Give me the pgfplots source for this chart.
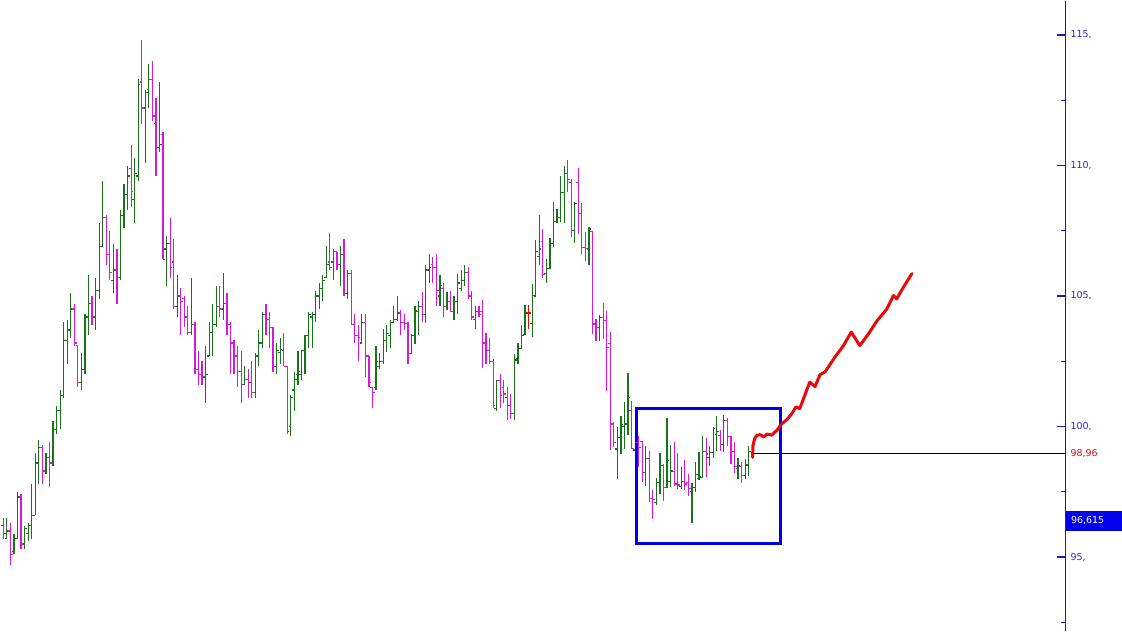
\documentclass[border=0pt]{standalone}
\usepackage{pgfplots}
\usepackage{pgfplotstable}
\usepackage{fontspec}
\setmainfont{DejaVu Sans}
\pgfplotsset{compat=1.18}
\definecolor{upg}{RGB}{25,115,25}
\definecolor{dnm}{RGB}{215,25,215}
\definecolor{axblue}{RGB}{25,25,200}
\definecolor{lblblue}{RGB}{40,40,185}
\definecolor{boxblue}{RGB}{0,0,235}
\definecolor{redl}{RGB}{230,10,10}
\pgfdeclareplotmark{ohlcopen}{\pgfpathmoveto{\pgfqpoint{-2.2pt}{0pt}}\pgfpathlineto{\pgfqpoint{0pt}{0pt}}\pgfusepathqstroke}
\pgfdeclareplotmark{ohlcclose}{\pgfpathmoveto{\pgfqpoint{0pt}{0pt}}\pgfpathlineto{\pgfqpoint{2.2pt}{0pt}}\pgfusepathqstroke}
\pgfplotstableread{
i o h l c
0 96.2 96.5 95.7 95.9
1 95.7 96.5 95.7 96.0
2 96.0 96.3 94.7 95.1
3 95.2 95.9 95.1 95.7
4 95.7 97.5 95.7 97.3
5 97.3 97.4 95.3 95.5
6 95.5 96.2 95.3 96.1
7 95.9 96.3 95.6 96.2
8 96.2 97.8 95.7 96.6
9 96.6 99.0 96.6 98.6
10 98.6 99.5 97.8 99.2
11 99.2 99.3 97.8 98.3
12 98.3 99.0 98.2 98.8
13 98.8 99.4 97.7 98.6
14 98.6 100.2 98.5 99.9
15 99.9 100.8 99.7 100.6
16 100.6 101.4 99.9 101.2
17 101.2 104.0 101.1 103.3
18 103.3 104.1 102.4 103.7
19 103.7 105.1 103.4 104.5
20 104.5 104.7 103.1 103.2
21 103.1 103.1 101.5 101.7
22 101.7 102.8 101.4 102.2
23 102.2 104.3 102.0 104.2
24 104.2 105.8 103.5 104.7
25 104.7 105.0 103.9 104.2
26 104.2 105.7 103.7 105.2
27 105.2 107.8 104.9 106.9
28 106.9 109.4 106.9 108.0
29 108.0 108.1 106.2 106.6
30 106.6 107.5 105.6 105.9
31 105.6 107.0 105.1 106.0
32 106.0 106.8 104.7 105.7
33 105.7 108.3 105.6 108.1
34 108.1 109.3 107.6 108.9
35 108.9 110.0 108.3 109.6
36 109.9 110.8 108.4 109.0
37 108.7 110.3 107.8 109.7
38 109.6 113.3 109.4 113.1
39 113.2 114.8 111.6 112.2
40 112.2 112.9 110.1 112.8
41 112.9 113.9 112.2 113.3
42 113.3 114.0 111.7 111.9
43 111.6 112.6 109.6 110.7
44 110.7 113.2 110.5 110.8
45 111.2 111.3 106.4 106.4
46 106.8 107.3 105.4 107.0
47 107.0 108.0 105.7 106.1
48 106.3 107.2 104.5 104.6
49 104.6 105.8 104.2 105.0
50 105.0 105.3 103.5 104.8
51 104.9 105.0 103.8 104.2
52 104.2 104.6 103.5 103.6
53 103.6 105.7 103.5 103.9
54 103.9 104.0 102.0 102.2
55 102.2 102.9 101.6 102.0
56 102.0 102.5 101.6 101.9
57 101.9 103.1 100.9 102.0
58 102.7 104.0 102.7 103.6
59 103.6 104.7 102.7 103.9
60 103.9 105.4 103.8 104.6
61 104.6 105.4 104.2 104.5
62 104.5 105.9 104.1 104.7
63 104.7 105.1 103.5 103.9
64 103.9 104.0 102.0 103.2
65 103.2 103.3 102.0 102.7
66 102.7 103.1 101.5 102.1
67 102.1 102.9 100.9 101.6
68 101.6 102.3 101.6 101.8
69 101.8 102.2 101.1 101.7
70 101.7 102.5 101.1 101.3
71 101.3 102.8 101.1 102.7
72 102.7 103.7 102.3 103.2
73 103.2 104.4 103.0 104.3
74 104.3 104.7 103.5 104.1
75 104.1 104.4 103.0 103.8
76 103.8 103.8 102.1 102.3
77 102.3 103.2 102.0 102.9
78 102.85 103.4 102.4 102.95
79 102.9 103.6 102.3 102.3
80 102.3 102.3 99.7 99.8
81 100.0 101.2 99.65 101.1
82 101.4 102.1 100.6 101.8
83 102.0 102.9 101.6 102.1
84 102.0 102.9 101.8 102.9
85 102.9 103.5 102.0 103.5
86 103.5 104.4 103.0 104.3
87 104.2 104.4 103.0 104.3
88 104.3 105.2 104.0 105.0
89 105.0 105.5 104.5 105.3
90 105.3 105.8 104.8 105.6
91 105.7 106.9 105.7 106.2
92 106.3 107.4 106.0 106.1
93 106.3 106.8 105.6 106.7
94 106.7 106.7 106.0 106.2
95 106.2 106.9 105.4 106.6
96 106.6 107.2 105.0 105.1
97 105.1 106.0 104.9 105.85
98 105.85 106.0 103.9 103.9
99 103.9 104.3 103.2 103.5
100 103.5 103.9 102.5 103.4
101 103.2 104.3 103.2 104.0
102 104.0 104.3 101.9 102.7
103 102.7 102.7 101.5 101.7
104 101.5 101.5 100.7 101.3
105 101.5 103.1 101.4 102.5
106 102.3 102.8 102.2 102.5
107 102.5 103.75 102.4 103.3
108 103.3 103.9 102.85 103.55
109 103.5 104.1 103.0 104.0
110 104.0 104.6 104.0 104.1
111 104.1 105.0 104.07 104.35
112 104.35 104.45 103.5 104.0
113 104.0 104.3 103.7 103.96
114 103.96 104.0 102.4 102.8
115 102.8 103.55 102.79 103.5
116 103.5 104.6 103.17 104.45
117 104.4 104.8 103.5 104.6
118 104.6 105.15 104.0 104.3
119 104.3 106.2 103.96 106.0
120 106.0 106.6 105.5 106.1
121 106.2 106.5 105.5 106.1
122 106.1 106.6 104.6 105.2
123 105.0 105.8 104.6 105.4
124 105.3 105.5 104.2 104.6
125 104.6 105.15 104.45 104.8
126 104.8 105.2 104.4 104.42
127 104.4 105.0 104.07 104.8
128 104.8 105.85 104.3 105.5
129 105.3 106.0 105.2 105.6
130 105.6 106.2 105.4 105.9
131 105.9 106.1 104.9 105.0
132 105.0 105.2 104.1 104.2
133 104.1 104.6 103.75 104.4
134 104.4 104.6 104.2 104.3
135 104.4 104.86 102.25 103.2
136 103.2 103.6 102.4 102.9
137 102.9 103.4 102.4 102.5
138 102.5 102.6 100.7 100.8
139 100.7 101.8 100.6 101.75
140 101.76 102.0 100.7 101.2
141 101.5 101.8 100.9 101.25
142 101.1 101.5 100.26 100.8
143 100.8 101.25 100.3 100.5
144 100.5 102.76 100.26 102.55
145 102.6 103.2 102.4 103.0
146 103.0 103.9 102.98 103.5
147 103.53 104.64 103.5 104.35
148 104.35 104.67 103.74 104.35
149 103.96 105.47 103.42 105.02
150 105.0 107.13 104.95 106.7
151 106.5 108.1 106.17 106.8
152 107.1 107.55 105.68 105.82
153 105.85 106.42 105.49 106.04
154 106.04 107.23 106.04 107.0
155 107.0 108.6 106.87 107.87
156 107.87 108.34 107.79 108.02
157 108.0 109.58 107.83 108.98
158 108.98 110.0 107.79 109.68
159 109.68 110.23 108.98 109.45
160 109.36 109.49 107.28 107.51
161 107.5 108.6 107.02 108.53
162 109.34 109.91 107.38 108.15
163 108.15 108.56 106.62 106.85
164 106.85 107.45 106.36 106.81
165 106.8 107.66 106.17 107.57
166 107.47 107.47 103.55 103.93
167 103.93 104.13 103.27 103.8
168 103.8 104.29 103.27 104.19
169 104.19 104.73 103.36 104.06
170 104.06 104.44 101.38 103.04
171 103.17 103.61 99.11 100.1
172 100.1 100.16 99.23 99.4
173 99.14 100.0 98.0 99.59
174 99.59 100.42 98.95 100.08
175 100.0 100.93 99.14 100.1
176 100.1 102.04 99.66 101.12
177 100.6 100.96 99.14 99.17
178 99.1 100.61 98.82 99.4
179 99.4 99.65 98.44 99.2
180 99.42 99.46 97.87 98.23
181 98.23 99.27 97.74 98.79
182 98.79 99.08 97.1 97.23
183 97.23 97.55 96.46 97.2
184 97.1 98.02 97.0 97.87
185 97.87 98.99 97.42 98.5
186 98.5 98.57 97.16 97.67
187 97.67 100.32 97.65 98.7
188 97.9 99.3 97.67 98.3
189 98.28 99.4 97.71 97.8
190 97.8 98.99 97.61 97.76
191 97.7 98.44 97.61 97.9
192 97.9 98.7 97.55 97.8
193 97.87 98.19 97.33 97.64
194 97.5 97.84 96.31 97.67
195 97.67 98.63 97.48 98.15
196 98.0 99.04 97.97 98.1
197 98.06 99.63 98.02 99.04
198 99.04 99.55 98.06 98.95
199 98.8 99.25 98.5 99.0
200 99.0 99.97 98.79 99.91
201 99.7 100.42 99.08 99.8
202 99.65 99.85 99.08 99.3
203 99.3 100.45 99.04 100.23
204 100.23 100.32 99.27 99.63
205 99.63 99.63 98.57 99.04
206 99.04 99.42 98.22 98.48
207 98.4 98.79 97.99 98.5
208 98.48 98.63 97.84 98.12
209 98.12 98.76 97.99 98.53
210 98.53 99.27 98.12 99.04
}\bars
\begin{document}
\begin{tikzpicture}
\begin{axis}[
  scale only axis, width=1066pt, height=631pt,
  xmin=-0.93, xmax=299.35, ymin=92.15, ymax=116.32,
  axis x line=none, axis y line*=right,
  clip=false,
  ytick={95,100,105,110,115},
  yticklabels={{95,},{100,},{105,},{110,},{115,}},
  minor ytick={92.5,97.5,102.5,107.5,112.5},
  tick align=inside,
  major tick length=9pt, minor tick length=4.5pt,
  y axis line style={axblue, line width=1.1pt},
  every tick/.style={axblue, line width=1.1pt},
  yticklabel style={font=\fontsize{9.5}{11}\selectfont, text=lblblue, inner sep=0pt, xshift=4.5pt},
]
\path (axis cs:-0.93,92.15) rectangle (axis cs:299.35,116.32);
% up bars
\addplot[upg, only marks, mark=ohlcopen, mark options={upg, line width=1.2pt},
  restrict expr to domain={\thisrow{c}-\thisrow{o}}{0.0001:100},
  error bars/.cd, y dir=both, y explicit, error mark=none, error bar style={upg, line width=1.2pt}]
  table[x=i, y=o, y error plus expr=\thisrow{h}-\thisrow{o}, y error minus expr=\thisrow{o}-\thisrow{l}] {\bars};
\addplot[upg, only marks, mark=ohlcclose, mark options={upg, line width=1.2pt},
  restrict expr to domain={\thisrow{c}-\thisrow{o}}{0.0001:100}]
  table[x=i, y=c] {\bars};
% down bars
\addplot[dnm, only marks, mark=ohlcopen, mark options={dnm, line width=1.2pt},
  restrict expr to domain={\thisrow{c}-\thisrow{o}}{-100:-0.0001},
  error bars/.cd, y dir=both, y explicit, error mark=none, error bar style={dnm, line width=1.2pt}]
  table[x=i, y=o, y error plus expr=\thisrow{h}-\thisrow{o}, y error minus expr=\thisrow{o}-\thisrow{l}] {\bars};
\addplot[dnm, only marks, mark=ohlcclose, mark options={dnm, line width=1.2pt},
  restrict expr to domain={\thisrow{c}-\thisrow{o}}{-100:-0.0001}]
  table[x=i, y=c] {\bars};
% unchanged bars
\addplot[redl, only marks, mark=ohlcopen, mark options={redl, line width=1.2pt},
  restrict expr to domain={\thisrow{c}-\thisrow{o}}{-0.00005:0.00005},
  error bars/.cd, y dir=both, y explicit, error mark=none, error bar style={redl, line width=1.2pt}]
  table[x=i, y=o, y error plus expr=\thisrow{h}-\thisrow{o}, y error minus expr=\thisrow{o}-\thisrow{l}] {\bars};
\addplot[redl, only marks, mark=ohlcclose, mark options={redl, line width=1.2pt},
  restrict expr to domain={\thisrow{c}-\thisrow{o}}{-0.00005:0.00005}]
  table[x=i, y=c] {\bars};
% blue rectangle
\addplot[boxblue, line width=3pt, mark=none, line join=miter] coordinates {
  (178.5,95.52) (219.1,95.52) (219.1,100.69) (178.5,100.69) (178.5,95.52) (219.1,95.52)};
% horizontal level line
\addplot[black, line width=0.9pt, mark=none] coordinates {(211.1,98.96) (299.35,98.96)};
% red projection line
\addplot[redl, line width=3pt, mark=none, line join=round, line cap=round] coordinates {
  (211.1,98.82) (211.2,99.27) (211.7,99.54) (212.3,99.66) (213.2,99.69) (214.3,99.60)
  (215.1,99.71) (216.5,99.67) (217.9,99.85) (219.3,100.10) (220.8,100.27) (222.2,100.50)
  (223.3,100.75) (224.4,100.69) (225.4,101.05) (227.2,101.70) (228.7,101.53) (230.1,101.99)
  (231.5,102.09) (234.3,102.66) (236.7,103.10) (238.9,103.62) (241.3,103.10) (243.7,103.54)
  (246.1,104.04) (248.9,104.50) (250.8,105.02) (251.7,104.89) (253.6,105.34) (256.0,105.86)};
\node[anchor=west, text=redl, font=\fontsize{9.5}{11}\selectfont, inner sep=0pt, xshift=4.5pt] at (axis cs:299.35,98.96) {98,96};
\node[anchor=west, fill=boxblue, text=white, font=\fontsize{9.5}{11}\selectfont,
  minimum height=20pt, inner xsep=5pt, inner ysep=0pt, text width=46pt, align=left] at (axis cs:299.35,96.38) {96,615};
\end{axis}
\end{tikzpicture}
\end{document}
